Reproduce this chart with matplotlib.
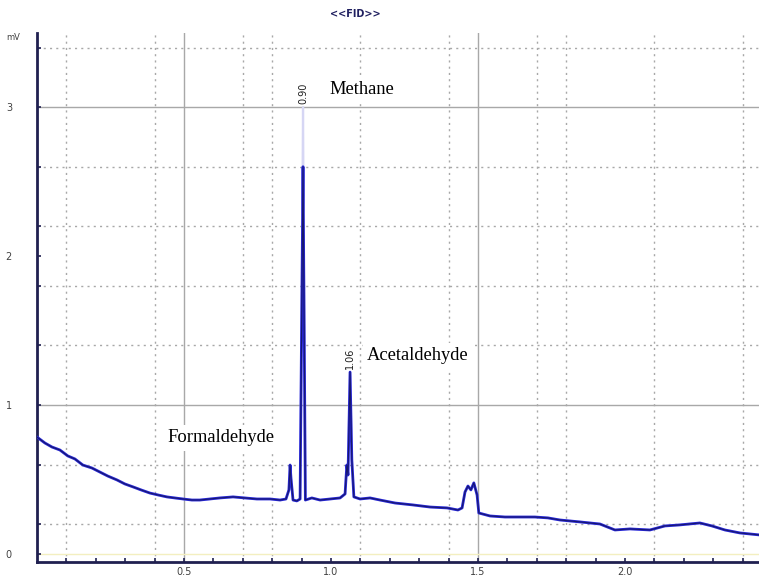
import numpy as np
import matplotlib.pyplot as plt

# retention time (min) and detector signal
t = [0.000, 0.027, 0.051, 0.078, 0.105, 0.129, 0.156, 0.187, 0.214, 0.241,
     0.272, 0.299, 0.327, 0.354, 0.384, 0.412, 0.442, 0.469, 0.497, 0.527,
     0.554, 0.588, 0.622, 0.667, 0.707, 0.748, 0.793, 0.827, 0.847, 0.857,
     0.861, 0.864, 0.871, 0.884, 0.895, 0.901, 0.905, 0.909, 0.913, 0.935,
     0.963, 0.997, 1.031, 1.048, 1.054, 1.058, 1.065, 1.071, 1.078, 1.099,
     1.133, 1.167, 1.218, 1.279, 1.337, 1.395, 1.432, 1.446, 1.456, 1.466,
     1.476, 1.486, 1.497, 1.503, 1.541, 1.592, 1.643, 1.694, 1.738, 1.779,
     1.847, 1.915, 1.966, 2.017, 2.085, 2.136, 2.187, 2.255, 2.296, 2.340,
     2.391, 2.456]
signal = [0.785, 0.745, 0.718, 0.698, 0.658, 0.638, 0.597, 0.577, 0.550, 0.523,
          0.497, 0.470, 0.450, 0.430, 0.409, 0.396, 0.383, 0.376, 0.369, 0.362,
          0.362, 0.369, 0.376, 0.383, 0.376, 0.369, 0.369, 0.362, 0.369, 0.430,
          0.597, 0.510, 0.362, 0.356, 0.369, 1.705, 3.000, 1.503, 0.362, 0.376,
          0.362, 0.369, 0.376, 0.403, 0.597, 0.530, 1.221, 0.631, 0.383, 0.369,
          0.376, 0.362, 0.342, 0.329, 0.315, 0.309, 0.295, 0.309, 0.416, 0.456,
          0.430, 0.477, 0.396, 0.275, 0.255, 0.248, 0.248, 0.248, 0.242, 0.228,
          0.215, 0.201, 0.161, 0.168, 0.161, 0.188, 0.195, 0.208, 0.188, 0.161,
          0.141, 0.128]

# peak names and their retention time labels
peaks = ["Formaldehyde", "Methane", "Acetaldehyde"]
peak_rt = ["", "0.90", "1.06"]
peak_t = [0.861, 0.905, 1.065]
peak_top = [0.597, 3.000, 1.221]

t = np.array(t)
signal = np.array(signal)

fig = plt.figure(figsize=(7.59, 5.78), dpi=100)
ax = fig.add_axes([0.0487, 0.0277, 0.9513, 0.915])

# grid: solid majors, dotted minors at the odd spacing of the software
for x in [0.5, 1.5]:
    ax.axvline(x, color="#a8a8a8", lw=1.0, zorder=0)
for x in [0.1, 0.4, 0.7, 0.8, 1.1, 1.4, 1.7, 1.8, 2.1, 2.4]:
    ax.axvline(x, color="#a8a8a8", lw=1.0, ls=(0, (1.5, 3)), zorder=0)
for y in [1.0, 3.0]:
    ax.axhline(y, color="#a8a8a8", lw=1.0, zorder=0)
for y in [0.2, 0.6, 1.4, 1.8, 2.2, 2.6, 3.4]:
    ax.axhline(y, color="#a8a8a8", lw=1.0, ls=(0, (1.5, 3)), zorder=0)
ax.axhline(0.0, color="#f3efc0", lw=1.0, zorder=0)

# trace: faint over the clipped peak tops, dark below
ax.plot(t, signal, color="#d6d6f4", lw=1.6, zorder=2)
low = np.minimum(signal, 2.6)
ax.plot(t, low, color="#2828d8", lw=2.0, zorder=3)
ax.plot(t, low, color="#101040", lw=0.8, alpha=0.7, zorder=4)

# retention time labels above the peaks
for name, rt, x, y in zip(peaks, peak_rt, peak_t, peak_top):
    if rt:
        ax.text(x, y + 0.02, rt, rotation=90, ha="center", va="bottom",
                fontsize=7, color="#202020", zorder=5)

# peak names
box = dict(facecolor="white", edgecolor="none", pad=3)
ax.text(0.445, 0.78, "Formaldehyde", fontsize=13.3, family="Liberation Serif",
        va="center", ha="left", bbox=box, zorder=6)
ax.text(0.995, 3.12, "Methane", fontsize=13.3, family="Liberation Serif",
        va="center", ha="left", bbox=box, zorder=6)
ax.text(1.123, 1.33, "Acetaldehyde", fontsize=13.3, family="Liberation Serif",
        va="center", ha="left", bbox=box, zorder=6)

ax.set_xlim(0, 2.456)
ax.set_ylim(-0.054, 3.497)

ax.set_xticks([0.5, 1.0, 1.5, 2.0])
ax.set_xticks(np.arange(0.1, 2.45, 0.1), minor=True)
ax.set_yticks([0, 1, 2, 3])
ax.set_yticks([0.2, 0.6, 1.4, 1.8, 2.2, 2.6, 3.4], minor=True)
ax.tick_params(which="both", direction="in", length=3, width=1.2,
               color="#202050", labelsize=7, labelcolor="#404040")
ax.tick_params(axis="y", pad=18)

for side in ["top", "right"]:
    ax.spines[side].set_visible(False)
for side in ["left", "bottom"]:
    ax.spines[side].set_color("#202050")
    ax.spines[side].set_linewidth(2)

fig.text(0.468, 0.975, "<<FID>>", fontsize=7, color="#202060",
         weight="bold", ha="center", va="center")
fig.text(0.018, 0.93, "mV", fontsize=6, color="#404040", ha="center")

fig.savefig("out.png", dpi=100)
